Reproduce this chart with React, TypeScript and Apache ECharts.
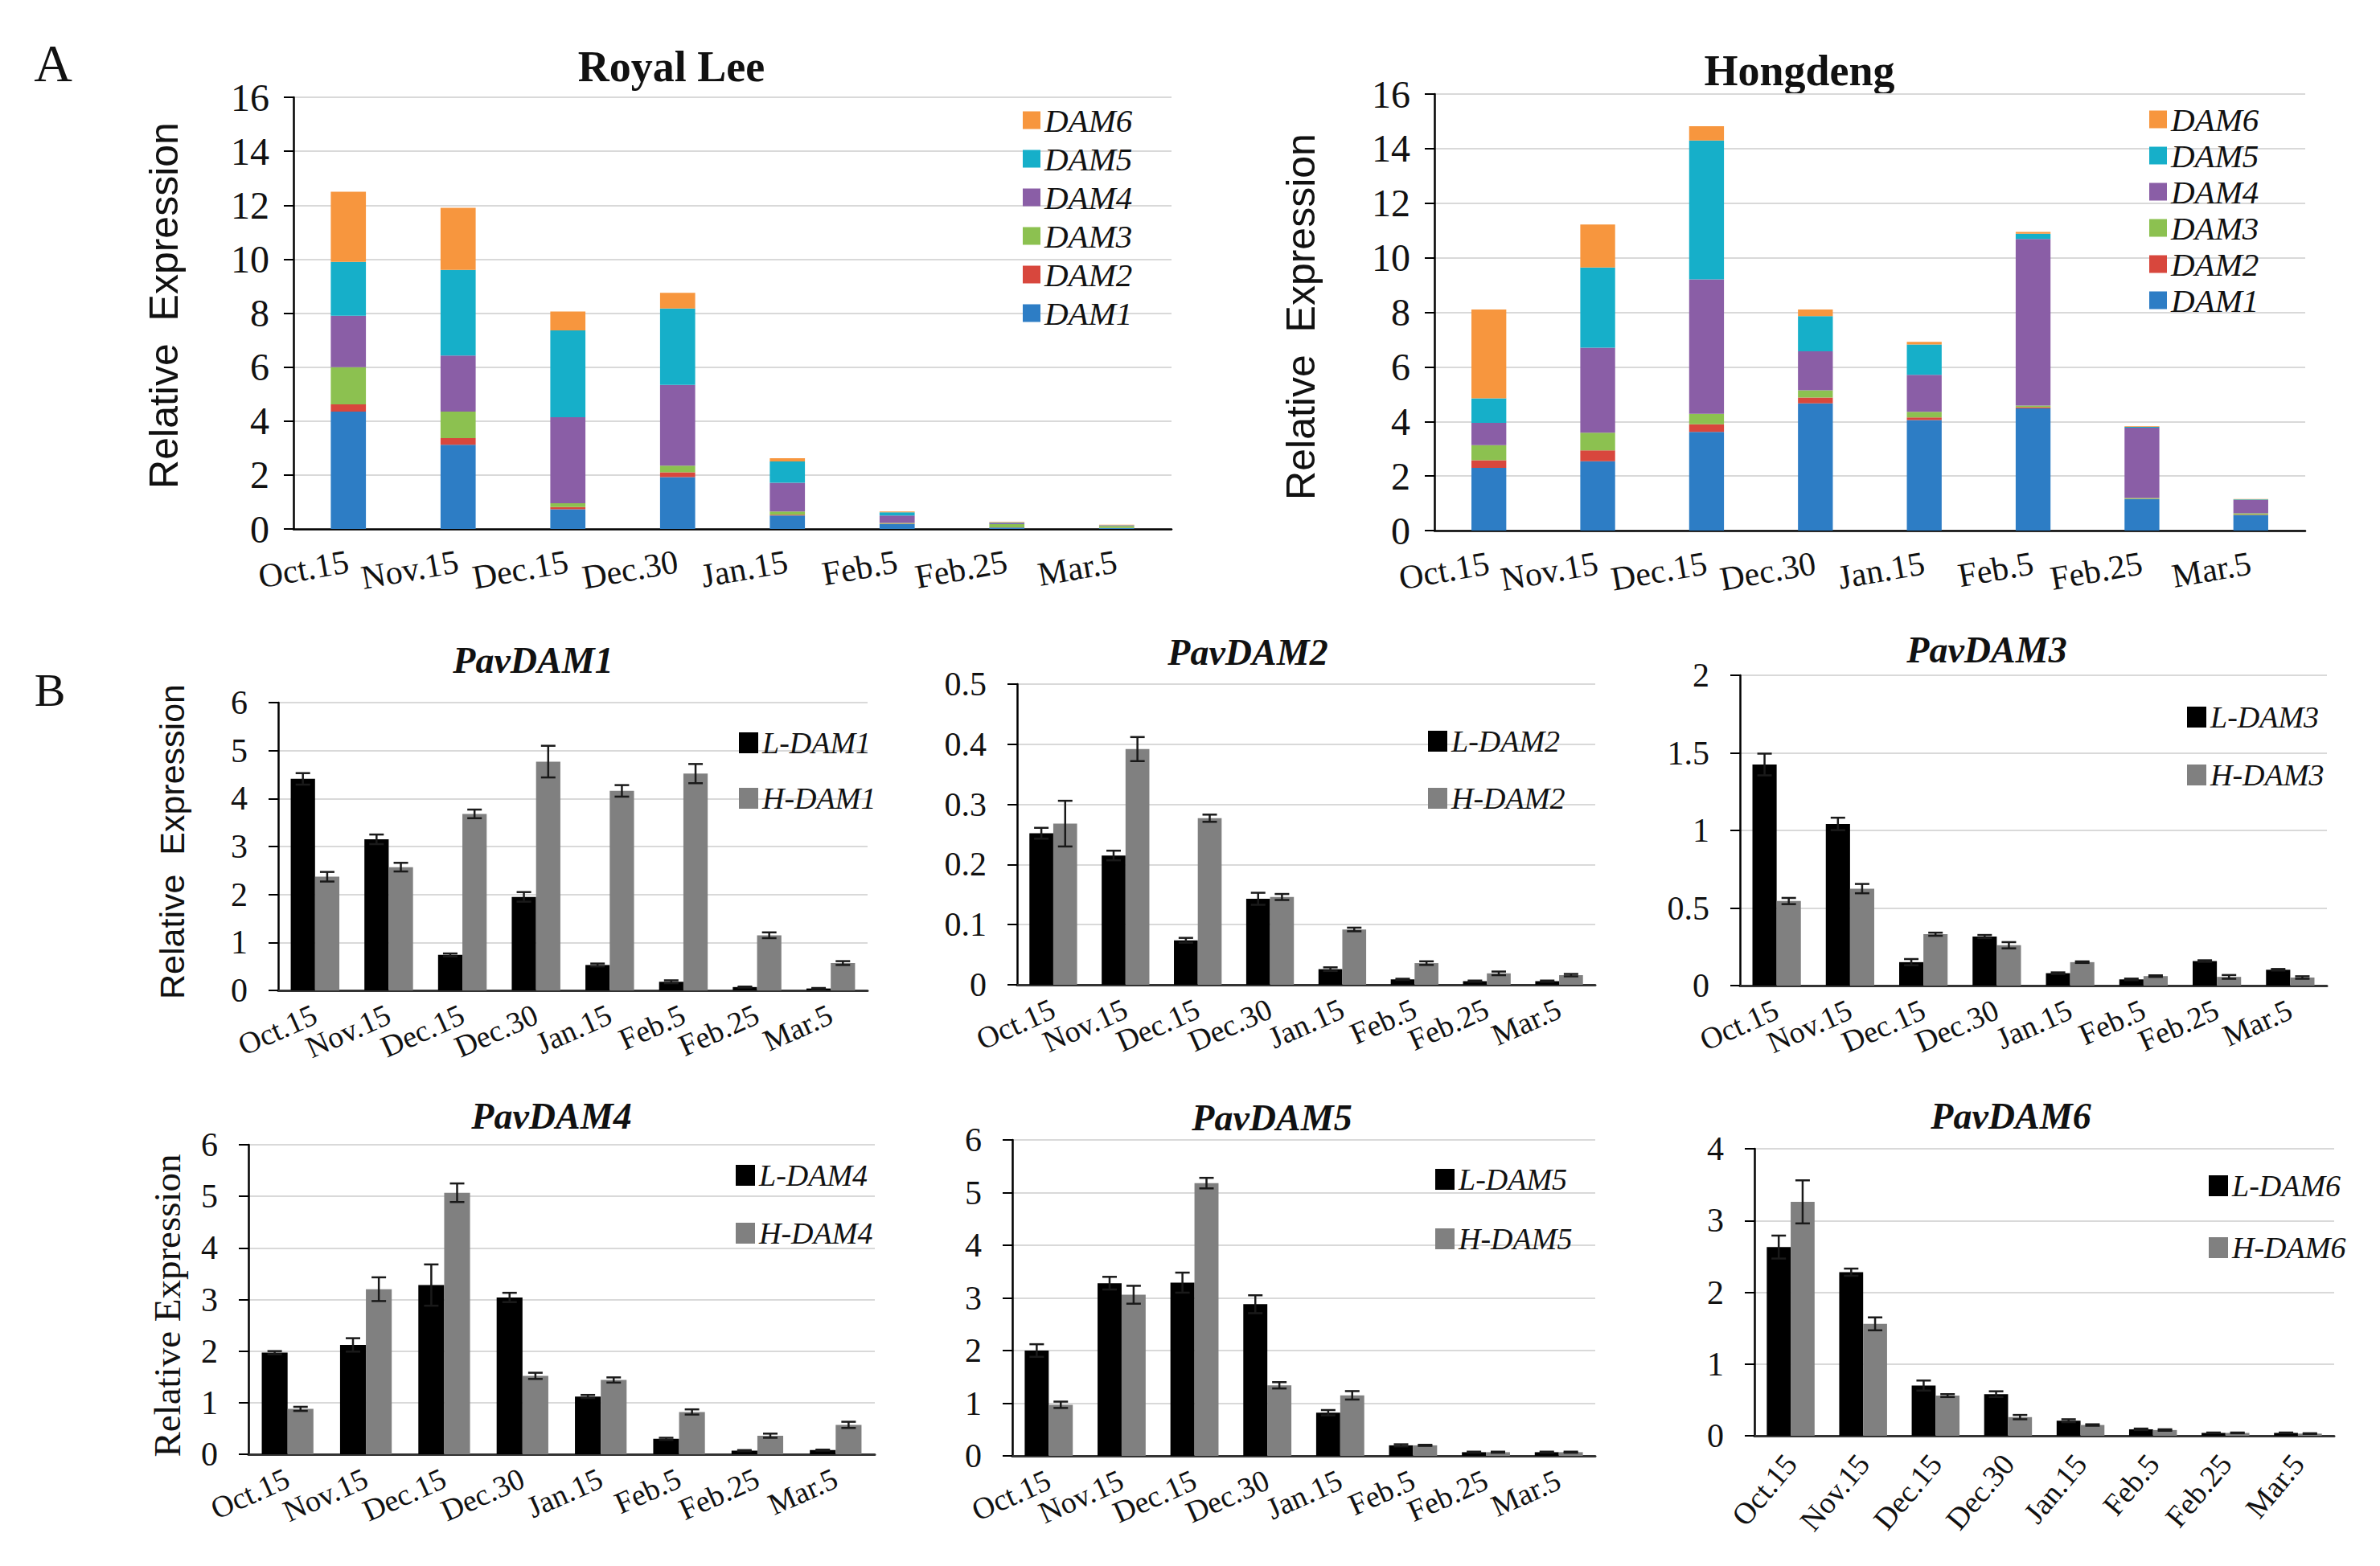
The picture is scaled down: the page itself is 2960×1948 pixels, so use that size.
import React, { useEffect, useRef } from "react";
import * as echarts from "echarts";

const dates = ["Oct.15", "Nov.15", "Dec.15", "Dec.30", "Jan.15", "Feb.5", "Feb.25", "Mar.5"];
const genes = ["DAM1", "DAM2", "DAM3", "DAM4", "DAM5", "DAM6"];

// panel A, stacked, Royal Lee
const rlDam1 = [4.35, 3.12, 0.73, 1.92, 0.5, 0.18, 0.05, 0.03];
const rlDam2 = [0.27, 0.25, 0.08, 0.18, 0.03, 0.01, 0.01, 0.005];
const rlDam3 = [1.38, 0.98, 0.14, 0.25, 0.12, 0.03, 0.12, 0.08];
const rlDam4 = [1.9, 2.08, 3.19, 2.99, 1.06, 0.28, 0.04, 0.02];
const rlDam5 = [2.0, 3.17, 3.22, 2.83, 0.79, 0.12, 0.02, 0.01];
const rlDam6 = [2.6, 2.3, 0.7, 0.58, 0.12, 0.03, 0.02, 0.01];

// panel A, stacked, Hongdeng
const hdDam1 = [2.3, 2.54, 3.62, 4.66, 4.05, 4.48, 1.15, 0.57];
const hdDam2 = [0.28, 0.4, 0.28, 0.22, 0.1, 0.04, 0.01, 0.01];
const hdDam3 = [0.55, 0.65, 0.38, 0.26, 0.2, 0.06, 0.03, 0.05];
const hdDam4 = [0.82, 3.11, 4.93, 1.43, 1.36, 6.11, 2.58, 0.49];
const hdDam5 = [0.9, 2.94, 5.09, 1.29, 1.11, 0.19, 0.03, 0.02];
const hdDam6 = [3.25, 1.58, 0.52, 0.24, 0.1, 0.07, 0.02, 0.02];

// panel B, means and error bars
const lDam1 = [4.41, 3.15, 0.74, 1.95, 0.53, 0.18, 0.07, 0.04];
const lDam1Err = [0.12, 0.1, 0.03, 0.1, 0.03, 0.03, 0.01, 0.01];
const hDam1 = [2.37, 2.57, 3.68, 4.77, 4.16, 4.52, 1.15, 0.57];
const hDam1Err = [0.1, 0.09, 0.09, 0.33, 0.12, 0.2, 0.06, 0.04];

const lDam2 = [0.252, 0.215, 0.074, 0.143, 0.026, 0.009, 0.006, 0.006];
const lDam2Err = [0.009, 0.008, 0.004, 0.01, 0.003, 0.001, 0.001, 0.001];
const hDam2 = [0.268, 0.392, 0.277, 0.146, 0.092, 0.036, 0.019, 0.016];
const hDam2Err = [0.038, 0.02, 0.006, 0.005, 0.003, 0.003, 0.003, 0.002];

const lDam3 = [1.425, 1.042, 0.151, 0.316, 0.08, 0.04, 0.158, 0.102];
const lDam3Err = [0.07, 0.04, 0.02, 0.01, 0.005, 0.005, 0.005, 0.005];
const hDam3 = [0.545, 0.625, 0.331, 0.26, 0.151, 0.061, 0.056, 0.052];
const hDam3Err = [0.02, 0.03, 0.01, 0.02, 0.005, 0.005, 0.012, 0.008];

const lDam4 = [1.97, 2.12, 3.28, 3.04, 1.12, 0.3, 0.07, 0.08];
const lDam4Err = [0.03, 0.13, 0.4, 0.09, 0.03, 0.02, 0.01, 0.01];
const hDam4 = [0.88, 3.2, 5.07, 1.52, 1.44, 0.82, 0.36, 0.57];
const hDam4Err = [0.04, 0.23, 0.18, 0.06, 0.05, 0.05, 0.04, 0.06];

const lDam5 = [2.0, 3.28, 3.29, 2.88, 0.82, 0.2, 0.07, 0.07];
const lDam5Err = [0.12, 0.12, 0.19, 0.17, 0.05, 0.02, 0.01, 0.01];
const hDam5 = [0.97, 3.06, 5.18, 1.34, 1.15, 0.2, 0.07, 0.07];
const hDam5Err = [0.06, 0.17, 0.1, 0.06, 0.08, 0.01, 0.01, 0.01];

const lDam6 = [2.63, 2.28, 0.7, 0.58, 0.21, 0.09, 0.04, 0.04];
const lDam6Err = [0.16, 0.05, 0.07, 0.04, 0.02, 0.01, 0.005, 0.005];
const hDam6 = [3.26, 1.56, 0.56, 0.26, 0.15, 0.08, 0.04, 0.03];
const hDam6Err = [0.3, 0.09, 0.02, 0.03, 0.01, 0.01, 0.005, 0.005];

const yMaxB = [6, 0.5, 2, 6, 6, 4];
const yStepB = [1, 0.1, 0.5, 1, 1, 1];

const SERIF = "Liberation Serif";
const SANS = "Liberation Sans";
const geneColors = ["#2D7DC5", "#D8473D", "#8CC150", "#8A5EA6", "#16AFC9", "#F7963E"];

const gridsA = [
  { left: 365, top: 121, width: 1092, height: 537 },
  { left: 1784, top: 117, width: 1083, height: 543 },
];
const gridsB = [
  { left: 346, top: 874, width: 733, height: 358 },
  { left: 1265, top: 851, width: 719, height: 374 },
  { left: 2164, top: 840, width: 730, height: 386 },
  { left: 309, top: 1424, width: 779, height: 385 },
  { left: 1259, top: 1418, width: 725, height: 393 },
  { left: 2182, top: 1429, width: 721, height: 357 },
];
const titlePosB = [[663, 821], [1552, 811], [2471, 808], [686, 1388], [1582, 1390], [2501, 1388]];
const legendPosB = [
  { left: 914, top: 900, gap: 31 },
  { left: 1771, top: 898, gap: 33 },
  { left: 2715, top: 868, gap: 34 },
  { left: 910, top: 1438, gap: 34 },
  { left: 1780, top: 1443, gap: 36 },
  { left: 2742, top: 1451, gap: 39 },
];
const rotateB = [24, 24, 24, 24, 24, 50];

function errSeries(ai: number, means: number[], errs: number[], offset: number) {
  return {
    type: "custom",
    xAxisIndex: ai,
    yAxisIndex: ai,
    z: 5,
    silent: true,
    data: means.map((m, i) => [i, Math.max(0, m - errs[i]), m + errs[i]]),
    encode: { x: 0, y: [1, 2] },
    renderItem: (_p: any, api: any) => {
      const i = api.value(0);
      const lo = api.coord([i, api.value(1)]);
      const hi = api.coord([i, api.value(2)]);
      const bw = api.size([1, 0])[0];
      const x = lo[0] + offset * bw;
      const c = 9;
      const style = { stroke: "#1a1a1a", lineWidth: 2.5 };
      return {
        type: "group",
        children: [
          { type: "line", shape: { x1: x, y1: lo[1], x2: x, y2: hi[1] }, style },
          { type: "line", shape: { x1: x - c, y1: hi[1], x2: x + c, y2: hi[1] }, style },
          { type: "line", shape: { x1: x - c, y1: lo[1], x2: x + c, y2: lo[1] }, style },
        ],
      };
    },
  };
}

export default function App() {
  const ref = useRef<HTMLDivElement>(null);

  useEffect(() => {
    if (!ref.current) return;
    const chart = echarts.init(ref.current, undefined, { renderer: "svg" });

    const stacksA = [
      [rlDam1, rlDam2, rlDam3, rlDam4, rlDam5, rlDam6],
      [hdDam1, hdDam2, hdDam3, hdDam4, hdDam5, hdDam6],
    ];
    const seriesB = [
      [lDam1, lDam1Err, hDam1, hDam1Err],
      [lDam2, lDam2Err, hDam2, hDam2Err],
      [lDam3, lDam3Err, hDam3, hDam3Err],
      [lDam4, lDam4Err, hDam4, hDam4Err],
      [lDam5, lDam5Err, hDam5, hDam5Err],
      [lDam6, lDam6Err, hDam6, hDam6Err],
    ];

    const grid: any[] = [...gridsA, ...gridsB];
    const xAxis: any[] = [];
    const yAxis: any[] = [];
    const series: any[] = [];
    const legend: any[] = [];

    grid.forEach((_g, gi) => {
      const isA = gi < 2;
      const bi = gi - 2;
      xAxis.push({
        type: "category",
        gridIndex: gi,
        data: dates,
        axisLine: { lineStyle: { color: isA ? "#000" : "#333", width: isA ? 2.5 : 3 } },
        axisTick: { alignWithLabel: true, length: 12, lineStyle: { color: "#000", width: 2 } },
        axisLabel: {
          rotate: isA ? 10 : rotateB[bi],
          margin: isA ? 40 : 28,
          fontFamily: SERIF,
          fontSize: isA ? 42 : 38,
          color: "#111",
          interval: 0,
        },
      });
      yAxis.push({
        type: "value",
        gridIndex: gi,
        min: 0,
        max: isA ? 16 : yMaxB[bi],
        interval: isA ? 2 : yStepB[bi],
        axisLine: { show: true, lineStyle: { color: "#000", width: 2.5 } },
        axisTick: { show: true, length: 12, lineStyle: { color: "#000", width: 2 } },
        splitLine: { lineStyle: { color: "#D9D9D9", width: 2 } },
        axisLabel: { fontFamily: SERIF, fontSize: isA ? 48 : 42, color: "#111", margin: isA ? 30 : 38 },
      });
    });

    stacksA.forEach((stack, ci) => {
      stack.forEach((vals, k) => {
        series.push({
          name: genes[k],
          type: "bar",
          stack: "A" + ci,
          xAxisIndex: ci,
          yAxisIndex: ci,
          barWidth: "32%",
          itemStyle: { color: geneColors[k] },
          data: vals,
        });
      });
      legend.push({
        orient: "vertical",
        left: [1267, 2668][ci],
        top: [124, 123][ci],
        itemGap: [7, 4][ci],
        itemWidth: 22,
        itemHeight: 22,
        icon: "rect",
        data: [...genes].reverse(),
        textStyle: { fontFamily: SERIF, fontStyle: "italic", fontSize: 41, color: "#111" },
      });
    });

    seriesB.forEach(([l, lErr, h, hErr], bi) => {
      const ai = bi + 2;
      const n = bi + 1;
      const lName = "L-DAM" + n;
      const hName = "H-DAM" + n;
      series.push({
        name: lName, type: "bar", xAxisIndex: ai, yAxisIndex: ai,
        barGap: "0%", barCategoryGap: "34%", itemStyle: { color: "#000" }, data: l,
      });
      series.push({
        name: hName, type: "bar", xAxisIndex: ai, yAxisIndex: ai,
        barGap: "0%", barCategoryGap: "34%", itemStyle: { color: "#808080" }, data: h,
      });
      series.push(errSeries(ai, l, lErr, -0.165));
      series.push(errSeries(ai, h, hErr, 0.165));
      legend.push({
        orient: "vertical",
        left: legendPosB[bi].left,
        top: legendPosB[bi].top,
        itemGap: legendPosB[bi].gap,
        itemWidth: 24,
        itemHeight: 26,
        icon: "rect",
        data: [lName, hName],
        textStyle: { fontFamily: SERIF, fontStyle: "italic", fontSize: 38, color: "#111" },
      });
    });

    const label = (text: string, x: number, y: number, style: any, rotation = 0) => ({
      type: "text",
      x,
      y,
      rotation,
      style: { text, align: "center", verticalAlign: "middle", fill: "#111", ...style },
    });

    const graphic: any[] = [
      label("A", 66, 78, { font: `66px ${SERIF}` }),
      label("B", 62, 858, { font: `58px ${SERIF}` }),
      label("Royal Lee", 835, 83, { font: `bold 54px ${SERIF}` }),
      label("Hongdeng", 2238, 88, { font: `bold 54px ${SERIF}` }),
      label("Relative  Expression", 204, 380, { font: `50px ${SANS}` }, Math.PI / 2),
      label("Relative  Expression", 1618, 394, { font: `50px ${SANS}` }, Math.PI / 2),
      label("Relative  Expression", 214, 1047, { font: `43px ${SANS}` }, Math.PI / 2),
      label("Relative Expression", 208, 1624, { font: `47px ${SERIF}` }, Math.PI / 2),
      ...titlePosB.map(([x, y], bi) =>
        label("PavDAM" + (bi + 1), x, y, { font: `italic bold 46px ${SERIF}` })
      ),
    ];

    chart.setOption({
      animation: false,
      backgroundColor: "#fff",
      grid,
      xAxis,
      yAxis,
      series,
      legend,
      graphic,
    });

    return () => chart.dispose();
  }, []);

  return (
    <div
      ref={ref}
      style={{ position: "fixed", left: 0, top: 0, width: 2960, height: 1948, background: "#fff" }}
    />
  );
}
